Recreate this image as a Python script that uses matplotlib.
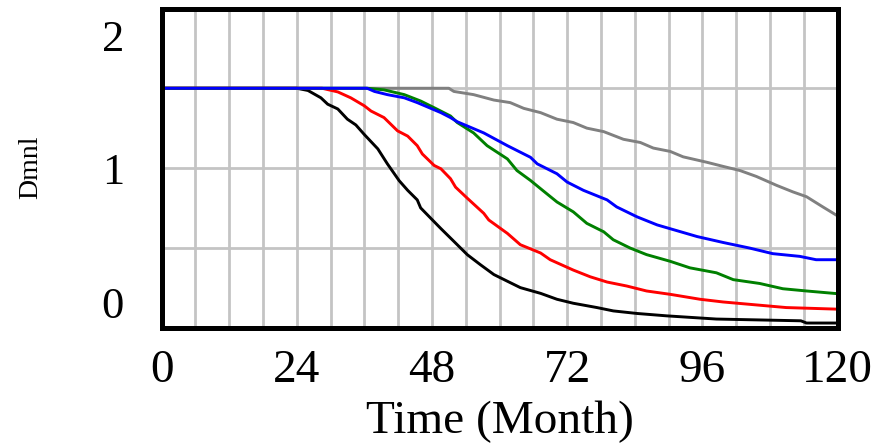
import matplotlib
matplotlib.use("Agg")
import matplotlib.pyplot as plt
import matplotlib.transforms as mtransforms

plt.rcParams['font.family'] = ['Liberation Serif', 'DejaVu Serif']

# Simulation runs (Time in months, value in Dmnl)
black_t = [0, 24, 26, 28.3, 29.5, 31.3, 33, 34.5, 36, 38.4, 40.1, 42.2, 43.7, 45.4, 46, 48.1,
           49.6, 51.9, 54.3, 56.6, 59, 61.4, 63.7, 67.3, 70.2, 73.1, 77.3, 80.2, 84.4, 89.7,
           98.5, 113.5, 114.5, 120]
black_v = [1.5, 1.5, 1.486, 1.44, 1.40, 1.37, 1.306, 1.27, 1.21, 1.12, 1.026, 0.92, 0.86, 0.80,
           0.75, 0.674, 0.62, 0.54, 0.456, 0.394, 0.332, 0.29, 0.25, 0.214, 0.177, 0.152, 0.125,
           0.104, 0.088, 0.073, 0.053, 0.042, 0.028, 0.028]

red_t = [0, 28.5, 31.3, 33.6, 36, 37.2, 39.5, 41.9, 43.7, 45.4, 46.3, 48.4, 49.6, 51.3, 52.2,
         54.3, 57.2, 58.1, 61.4, 63.7, 67.3, 69, 73.1, 76.1, 79.1, 82.6, 86.1, 90.3, 95.6, 99.7,
         110.9, 120]
red_v = [1.5, 1.5, 1.477, 1.44, 1.39, 1.357, 1.316, 1.233, 1.2, 1.14, 1.088, 1.016, 0.995, 0.933,
         0.88, 0.81, 0.716, 0.674, 0.59, 0.519, 0.467, 0.425, 0.36, 0.318, 0.285, 0.26, 0.229,
         0.208, 0.177, 0.16, 0.125, 0.115]

green_t = [0, 36.5, 39.5, 43.1, 46, 48.4, 51.3, 52.5, 55.4, 57.8, 61.4, 63.1, 65.5, 67.3, 70.2,
           73.1, 75.5, 78.5, 80.2, 83.2, 86.1, 90.3, 93.8, 98.5, 101.5, 106.2, 110.3, 114.5, 120]
green_v = [1.5, 1.5, 1.49, 1.46, 1.42, 1.378, 1.326, 1.285, 1.22, 1.14, 1.057, 0.984, 0.922, 0.87,
           0.787, 0.725, 0.653, 0.60, 0.55, 0.498, 0.457, 0.415, 0.374, 0.343, 0.30, 0.276,
           0.243, 0.229, 0.212]

blue_t = [0, 36.5, 37.8, 40.1, 43.1, 45.4, 47.8, 49.6, 51.3, 52.5, 57.2, 61.4, 65.5, 66.7, 70.2,
          72, 74.9, 79.1, 80.8, 84.4, 88, 91.5, 95.1, 99.7, 104.4, 108.5, 113.3, 116.2, 120]
blue_v = [1.5, 1.5, 1.48, 1.46, 1.44, 1.41, 1.374, 1.347, 1.316, 1.29, 1.22, 1.14, 1.067, 1.026,
          0.964, 0.912, 0.86, 0.80, 0.756, 0.694, 0.643, 0.607, 0.57, 0.533, 0.498, 0.463,
          0.446, 0.425, 0.425]

gray_t = [0, 51, 51.9, 55.4, 59, 61.9, 64.3, 67.3, 70.2, 73.1, 75.5, 78.5, 82, 85, 87.3, 90.3,
          92.6, 96.8, 99.7, 102.7, 105.6, 109.2, 112.1, 114.5, 117.4, 120]
gray_v = [1.5, 1.5, 1.48, 1.46, 1.426, 1.41, 1.374, 1.347, 1.306, 1.285, 1.25, 1.228, 1.18, 1.16,
          1.125, 1.104, 1.07, 1.036, 1.01, 0.984, 0.947, 0.891, 0.85, 0.82, 0.756, 0.70]

x_ticks = [0, 24, 48, 72, 96, 120]
y_ticks = [0, 1, 2]

fig = plt.figure(figsize=(8.9, 4.43), dpi=100)
ax = fig.add_axes([161.5 / 890, 1 - 327.5 / 443, 676 / 890, 319 / 443])

# vensim style grid: every 6 months, every 0.5
for t in range(6, 120, 6):
    ax.axvline(t, color='#c4c4c4', lw=2, zorder=1)
for v in [0.5, 1.0, 1.5]:
    ax.axhline(v, color='#c4c4c4', lw=2, zorder=1)

lw = 2.1
ax.plot(gray_t, gray_v, color='#808080', lw=lw, zorder=3)
ax.plot(black_t, black_v, color='black', lw=lw, zorder=3)
ax.plot(red_t, red_v, color='#ff0000', lw=lw, zorder=3)
ax.plot(green_t, green_v, color='#008000', lw=lw, zorder=3)
ax.plot(blue_t, blue_v, color='#0000ff', lw=lw, zorder=4)

ax.set_xlim(0, 120)
ax.set_ylim(0, 2)

ax.set_xticks(x_ticks)
ax.set_xticklabels([str(t) for t in x_ticks])
ax.set_yticks(y_ticks)
ax.set_yticklabels([str(v) for v in y_ticks])
ax.tick_params(axis='x', length=0, pad=16, labelsize=34)
ax.tick_params(axis='y', length=0, pad=27, labelsize=32)

# vensim pulls the end labels of the value axis inward
lbls = ax.get_yticklabels()
lbls[0].set_transform(lbls[0].get_transform() +
                      mtransforms.ScaledTranslation(0, 25 / 100, fig.dpi_scale_trans))
lbls[2].set_transform(lbls[2].get_transform() +
                      mtransforms.ScaledTranslation(0, -27 / 100, fig.dpi_scale_trans))

for s in ax.spines.values():
    s.set_linewidth(3.6)
    s.set_color('black')
    s.set_zorder(5)

ax.set_xlabel("Time (Month)", fontsize=34, labelpad=6)
fig.text(31 / 890, 1 - 167 / 443, "Dmnl", fontsize=20, rotation=90, ha='center', va='center')

fig.savefig("out.png", dpi=100)
